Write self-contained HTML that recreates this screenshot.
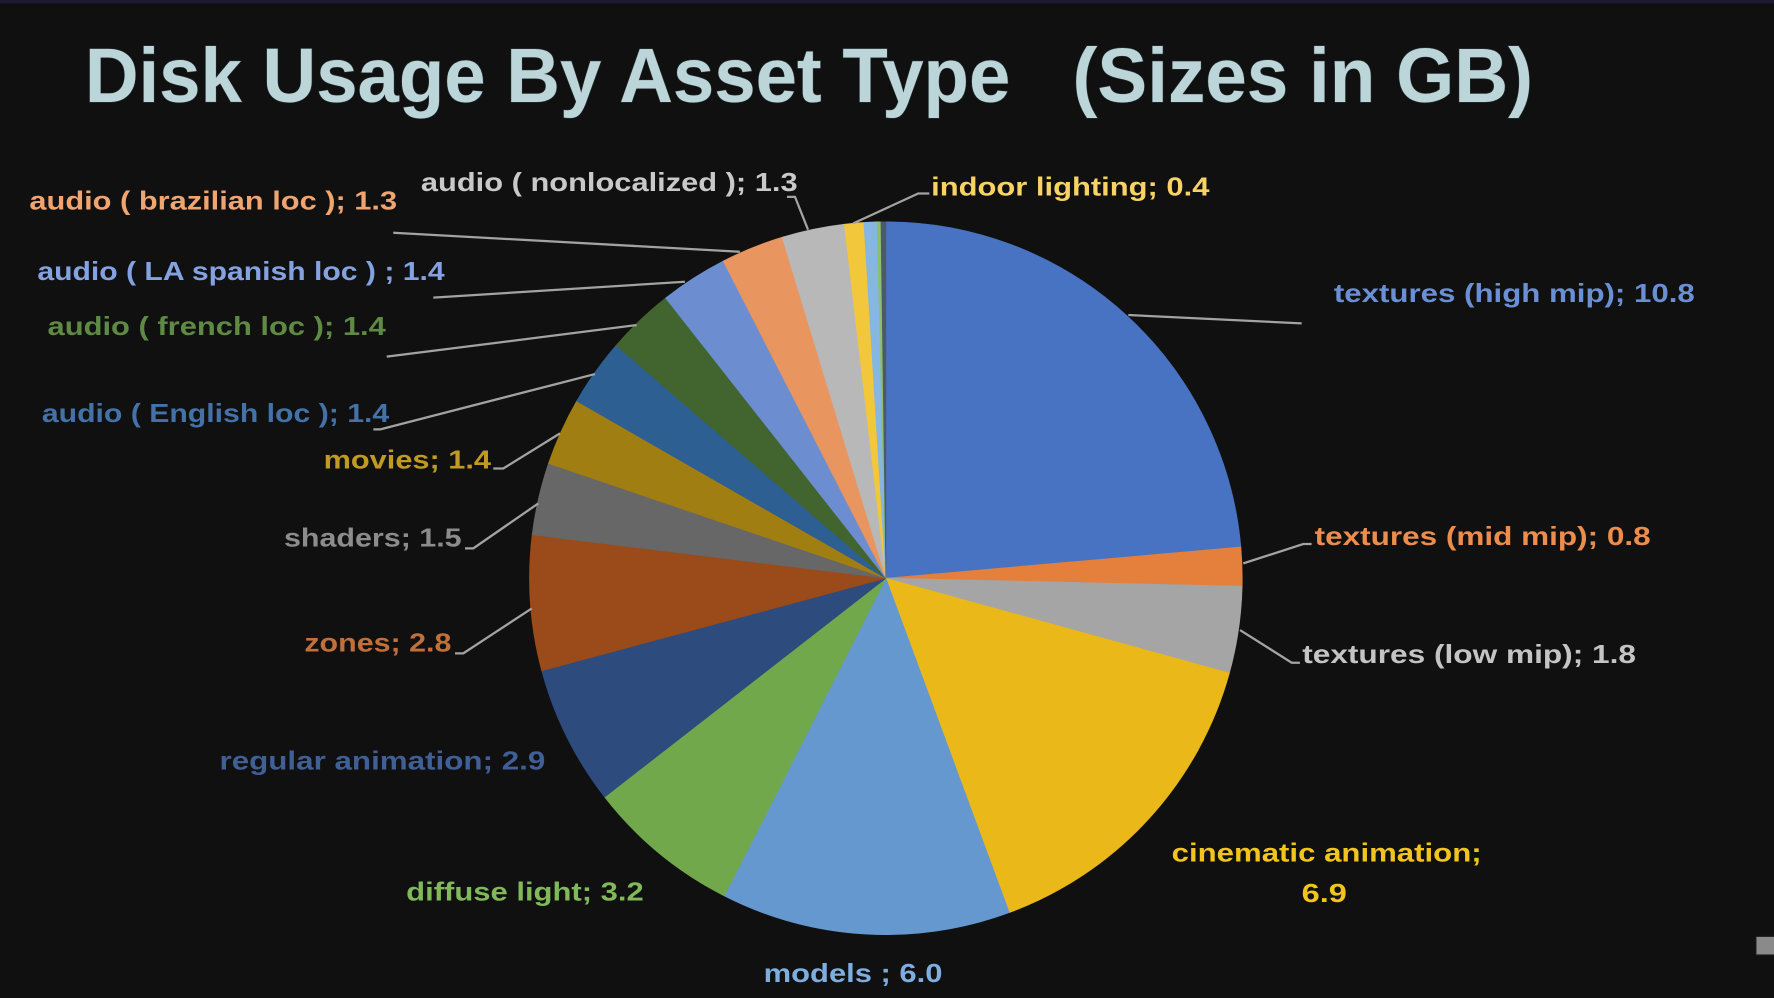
<!DOCTYPE html>
<html>
<head>
<meta charset="utf-8">
<style>
  html, body { margin: 0; padding: 0; background: #101010; }
  body { width: 1774px; height: 998px; overflow: hidden; }
  svg { display: block; }
  .lbl { font-family: "Liberation Sans", Arial, sans-serif; font-weight: bold; font-size: 23px; }
  .ttl { font-family: "Liberation Sans", Arial, sans-serif; font-weight: bold; font-size: 68px; fill: #bcd5d8; stroke: #2a3436; stroke-width: 1; paint-order: stroke; }
</style>
</head>
<body>
<svg width="1774" height="998" viewBox="0 0 1568 882" preserveAspectRatio="none" xmlns="http://www.w3.org/2000/svg">
  <rect x="0" y="0" width="1568" height="882" fill="#101010"/>
  <rect x="0" y="0" width="1568" height="3" fill="#1b1b33"/>

  <!-- Title -->
  <text class="ttl" x="75" y="90" textLength="818" lengthAdjust="spacingAndGlyphs">Disk Usage By Asset Type</text>
  <text class="ttl" x="948" y="90" textLength="407" lengthAdjust="spacingAndGlyphs">(Sizes in GB)</text>

  <!-- Pie slices -->
  <g stroke-width="0.6" stroke-linejoin="round">
    <path d="M783,511 L783,196 A315,315 0 0 1 1096.79,483.44 Z" fill="#4873C2" stroke="#4873C2"/>
    <path d="M783,511 L1096.79,483.44 A315,315 0 0 1 1097.92,518.04 Z" fill="#E47F3C" stroke="#E47F3C"/>
    <path d="M783,511 L1097.92,518.04 A315,315 0 0 1 1086.63,594.86 Z" fill="#A5A5A5" stroke="#A5A5A5"/>
    <path d="M783,511 L1086.63,594.86 A315,315 0 0 1 892.09,806.51 Z" fill="#EAB818" stroke="#EAB818"/>
    <path d="M783,511 L892.09,806.51 A315,315 0 0 1 640.22,791.78 Z" fill="#6698D0" stroke="#6698D0"/>
    <path d="M783,511 L640.22,791.78 A315,315 0 0 1 534.37,704.41 Z" fill="#71A84C" stroke="#71A84C"/>
    <path d="M783,511 L534.37,704.41 A315,315 0 0 1 478.80,592.79 Z" fill="#2E4B7E" stroke="#2E4B7E"/>
    <path d="M783,511 L478.80,592.79 A315,315 0 0 1 470.34,472.66 Z" fill="#9A4B19" stroke="#9A4B19"/>
    <path d="M783,511 L470.34,472.66 A315,315 0 0 1 484.79,409.55 Z" fill="#676767" stroke="#676767"/>
    <path d="M783,511 L484.79,409.55 A315,315 0 0 1 509.69,354.40 Z" fill="#A07E12" stroke="#A07E12"/>
    <path d="M783,511 L509.69,354.40 A315,315 0 0 1 544.56,305.16 Z" fill="#2D5F93" stroke="#2D5F93"/>
    <path d="M783,511 L544.56,305.16 A315,315 0 0 1 588.32,263.36 Z" fill="#42652F" stroke="#42652F"/>
    <path d="M783,511 L588.32,263.36 A315,315 0 0 1 639.27,230.70 Z" fill="#6C8ED0" stroke="#6C8ED0"/>
    <path d="M783,511 L639.27,230.70 A315,315 0 0 1 691.33,209.64 Z" fill="#E89560" stroke="#E89560"/>
    <path d="M783,511 L691.33,209.64 A315,315 0 0 1 746.30,198.14 Z" fill="#B8B8B8" stroke="#B8B8B8"/>
    <path d="M783,511 L746.30,198.14 A315,315 0 0 1 763.55,196.60 Z" fill="#F2C73C" stroke="#F2C73C"/>
    <path d="M783,511 L763.55,196.60 A315,315 0 0 1 775.19,196.10 Z" fill="#86B6E2" stroke="#86B6E2"/>
    <path d="M783,511 L775.19,196.10 A315,315 0 0 1 778.66,196.03 Z" fill="#8CC070" stroke="#8CC070"/>
    <path d="M783,511 L778.66,196.03 A315,315 0 0 1 783,196 Z" fill="#4A5A6A" stroke="#4A5A6A"/>
  </g>

  <!-- Leader lines -->
  <g fill="none" stroke="#a3a3a3" stroke-width="2">
    <polyline points="695.6,174 702.7,174 714.2,203"/>
    <polyline points="821.4,171 811.6,171 754.2,197.4"/>
    <polyline points="347.6,205.7 654,222.5"/>
    <polyline points="383,263 605.4,249"/>
    <polyline points="341.8,315.2 562.7,287.3"/>
    <polyline points="330,379.5 335.9,379.5 525.9,330.6"/>
    <polyline points="436,414 444.9,414 495,383"/>
    <polyline points="411,484.6 418.4,484.6 475.8,444.9"/>
    <polyline points="402.2,577.4 409.5,577.4 470,537.7"/>
    <polyline points="997.3,278.4 1150.5,285.8"/>
    <polyline points="1098.9,497.9 1151.9,480.8 1159.3,480.8"/>
    <polyline points="1096,556.8 1141.7,585.7 1149,585.7"/>
  </g>

  <!-- Labels -->
  <g class="lbl">
    <text x="372" y="169" fill="#c9c9c9" textLength="333" lengthAdjust="spacingAndGlyphs">audio ( nonlocalized ); 1.3</text>
    <text x="26" y="185" fill="#f0a470" textLength="325" lengthAdjust="spacingAndGlyphs">audio ( brazilian loc ); 1.3</text>
    <text x="823" y="173" fill="#f7d264" textLength="246" lengthAdjust="spacingAndGlyphs">indoor lighting; 0.4</text>
    <text x="1179" y="267" fill="#6a8fd4" textLength="319" lengthAdjust="spacingAndGlyphs">textures (high mip); 10.8</text>
    <text x="33" y="247.5" fill="#84a2e0" textLength="360" lengthAdjust="spacingAndGlyphs">audio ( LA spanish loc ) ; 1.4</text>
    <text x="42" y="296" fill="#5e8a44" textLength="299" lengthAdjust="spacingAndGlyphs">audio ( french loc ); 1.4</text>
    <text x="37" y="373" fill="#4472a8" textLength="307" lengthAdjust="spacingAndGlyphs">audio ( English loc ); 1.4</text>
    <text x="286" y="414" fill="#c09a22" textLength="148" lengthAdjust="spacingAndGlyphs">movies; 1.4</text>
    <text x="251" y="483" fill="#8c8c8c" textLength="157" lengthAdjust="spacingAndGlyphs">shaders; 1.5</text>
    <text x="269" y="576" fill="#c0703a" textLength="130" lengthAdjust="spacingAndGlyphs">zones; 2.8</text>
    <text x="194" y="680" fill="#3f5f96" textLength="288" lengthAdjust="spacingAndGlyphs">regular animation; 2.9</text>
    <text x="359" y="796" fill="#80b85a" textLength="210" lengthAdjust="spacingAndGlyphs">diffuse light; 3.2</text>
    <text x="675" y="868" fill="#7eaee0" textLength="158" lengthAdjust="spacingAndGlyphs">models ; 6.0</text>
    <text x="1035.6" y="761.5" fill="#f2c41e" textLength="274" lengthAdjust="spacingAndGlyphs">cinematic animation;</text>
    <text x="1150.5" y="797" fill="#f2c41e" textLength="40" lengthAdjust="spacingAndGlyphs">6.9</text>
    <text x="1162" y="481.5" fill="#ec8d4e" textLength="297" lengthAdjust="spacingAndGlyphs">textures (mid mip); 0.8</text>
    <text x="1151" y="586" fill="#c4c4c4" textLength="295" lengthAdjust="spacingAndGlyphs">textures (low mip); 1.8</text>
  </g>

  <!-- small gray box bottom-right -->
  <rect x="1552" y="827.5" width="17" height="16.5" fill="#8a8a8a" stroke="#1a1a1a" stroke-width="1"/>
</svg>
</body>
</html>
